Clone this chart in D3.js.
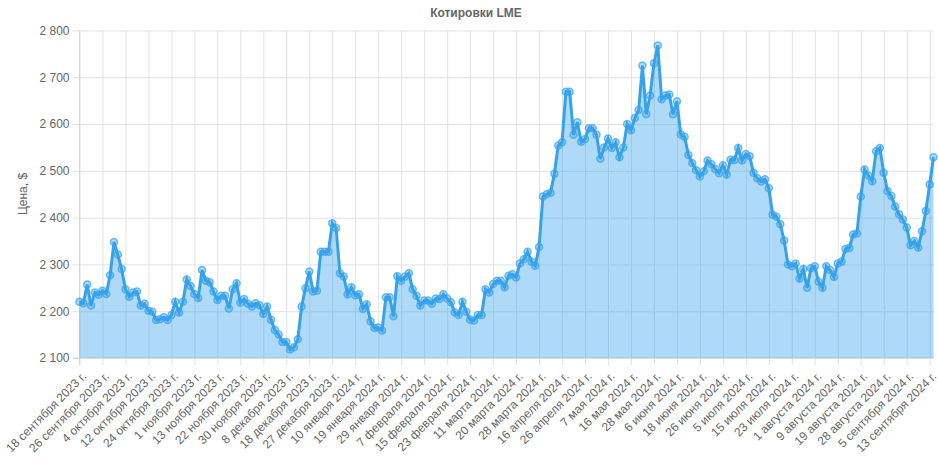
<!DOCTYPE html>
<html><head><meta charset="utf-8">
<script src="https://cdn.jsdelivr.net/npm/d3@7"></script>
<style>
body{margin:0;background:#fff;}
svg{display:block;font-family:"Liberation Sans",Arial,Helvetica,sans-serif;}
</style></head>
<body><svg id="c" width="938" height="472"></svg>
<script>
const title = "Котировки LME";
const yTitle = "Цена, $";
const dates = [
"2023-09-18","2023-09-19","2023-09-20","2023-09-21","2023-09-22","2023-09-25","2023-09-26",
"2023-09-27","2023-09-28","2023-09-29","2023-10-02","2023-10-03","2023-10-04",
"2023-10-05","2023-10-06","2023-10-09","2023-10-10","2023-10-11","2023-10-12",
"2023-10-16","2023-10-17","2023-10-18","2023-10-19","2023-10-23","2023-10-24",
"2023-10-25","2023-10-26","2023-10-27","2023-10-30","2023-10-31","2023-11-01",
"2023-11-02","2023-11-03","2023-11-06","2023-11-08","2023-11-10","2023-11-13",
"2023-11-14","2023-11-15","2023-11-16","2023-11-17","2023-11-21","2023-11-22",
"2023-11-23","2023-11-24","2023-11-27","2023-11-28","2023-11-29","2023-11-30",
"2023-12-01","2023-12-04","2023-12-05","2023-12-06","2023-12-07","2023-12-08",
"2023-12-11","2023-12-12","2023-12-13","2023-12-14","2023-12-15","2023-12-18",
"2023-12-19","2023-12-20","2023-12-21","2023-12-22","2023-12-26","2023-12-27",
"2023-12-28","2023-12-29","2024-01-03","2024-01-05","2024-01-09","2024-01-10",
"2024-01-11","2024-01-12","2024-01-16","2024-01-17","2024-01-18","2024-01-19",
"2024-01-22","2024-01-23","2024-01-24","2024-01-25","2024-01-26","2024-01-29",
"2024-01-30","2024-01-31","2024-02-01","2024-02-02","2024-02-06","2024-02-07",
"2024-02-08","2024-02-09","2024-02-12","2024-02-13","2024-02-14","2024-02-15",
"2024-02-16","2024-02-19","2024-02-20","2024-02-21","2024-02-22","2024-02-23",
"2024-02-27","2024-02-29","2024-03-04","2024-03-06","2024-03-08","2024-03-11",
"2024-03-12","2024-03-13","2024-03-14","2024-03-18","2024-03-19","2024-03-20",
"2024-03-21","2024-03-22","2024-03-25","2024-03-26","2024-03-27","2024-03-28",
"2024-04-03","2024-04-05","2024-04-09","2024-04-11","2024-04-15","2024-04-16",
"2024-04-17","2024-04-18","2024-04-22","2024-04-23","2024-04-25","2024-04-26",
"2024-04-29","2024-04-30","2024-05-01","2024-05-02","2024-05-03","2024-05-07",
"2024-05-08","2024-05-09","2024-05-10","2024-05-14","2024-05-15","2024-05-16",
"2024-05-17","2024-05-20","2024-05-21","2024-05-22","2024-05-24","2024-05-28",
"2024-05-29","2024-05-30","2024-05-31","2024-06-04","2024-06-05","2024-06-06",
"2024-06-07","2024-06-10","2024-06-12","2024-06-13","2024-06-17","2024-06-18",
"2024-06-19","2024-06-20","2024-06-21","2024-06-24","2024-06-25","2024-06-26",
"2024-06-27","2024-06-28","2024-07-01","2024-07-02","2024-07-03","2024-07-05",
"2024-07-08","2024-07-09","2024-07-10","2024-07-11","2024-07-12","2024-07-15",
"2024-07-16","2024-07-17","2024-07-18","2024-07-19","2024-07-22","2024-07-23",
"2024-07-24","2024-07-25","2024-07-26","2024-07-29","2024-07-31","2024-08-01",
"2024-08-02","2024-08-05","2024-08-06","2024-08-07","2024-08-08","2024-08-09",
"2024-08-12","2024-08-13","2024-08-14","2024-08-15","2024-08-16","2024-08-19",
"2024-08-20","2024-08-21","2024-08-22","2024-08-23","2024-08-27","2024-08-28",
"2024-08-29","2024-08-30","2024-09-02","2024-09-03","2024-09-04","2024-09-05",
"2024-09-06","2024-09-09","2024-09-10","2024-09-11","2024-09-12","2024-09-13",
"2024-09-16"];
const prices = [
2220,2217,2257,2212,2240,2235,2244,
2237,2277,2348,2321,2290,2247,
2231,2240,2242,2212,2216,2201,
2199,2181,2183,2187,2181,2192,
2220,2197,2220,2268,2254,2237,
2228,2288,2265,2262,2242,2224,
2233,2233,2206,2247,2260,2218,
2226,2216,2210,2217,2213,2194,
2210,2182,2160,2150,2134,2134,
2118,2123,2140,2210,2249,2285,
2242,2244,2327,2327,2327,2388,
2378,2281,2274,2236,2251,2234,
2236,2205,2215,2178,2164,2165,
2159,2230,2230,2189,2275,2265,
2274,2281,2247,2233,2212,2223,
2223,2216,2227,2226,2236,2227,
2219,2197,2192,2220,2199,2182,
2180,2192,2192,2247,2240,2258,
2265,2265,2251,2276,2279,2272,
2302,2311,2327,2306,2297,2337,
2445,2450,2453,2494,2554,2561,
2669,2669,2577,2604,2562,2568,
2591,2591,2577,2526,2550,2569,
2549,2561,2529,2550,2600,2587,
2613,2630,2725,2621,2661,2730,
2768,2653,2661,2663,2621,2649,
2578,2573,2534,2517,2502,2488,
2499,2522,2514,2504,2495,2512,
2492,2524,2523,2549,2522,2536,
2531,2496,2484,2477,2482,2463,
2406,2402,2386,2351,2300,2296,
2302,2270,2290,2250,2292,2296,
2263,2250,2296,2288,2273,2302,
2306,2333,2335,2364,2366,2445,
2503,2490,2478,2542,2549,2496,
2457,2446,2424,2407,2396,2379,
2341,2350,2336,2371,2414,2471,
2529];
const yTicks = [2100,2200,2300,2400,2500,2600,2700,2800];
const monthsGen = ["января","февраля","марта","апреля","мая","июня","июля","августа","сентября","октября","ноября","декабря"];
const labelStep = 6;

function fmtDate(s){
  const [y,m,d] = s.split("-").map(Number);
  return d + " " + monthsGen[m-1] + " " + y + " г.";
}
const loc = d3.formatLocale({decimal:",", thousands:"\u00a0", grouping:[3], currency:["","$"]});
const fmtY = loc.format(",d");

const L = 79.5, R = 933.5, T = 30.5, B = 358;
const svg = d3.select("#c");
const x = d3.scaleLinear().domain([0, dates.length-1]).range([L, R]);
const y = d3.scaleLinear().domain([2100, 2800]).range([B, T]);
const grid = "#e2e2e2", txt = "#666";
const blue = "rgb(54,162,235)";

// title
svg.append("text").attr("x", 476).attr("y", 17).attr("text-anchor","middle")
  .attr("font-size", 12).attr("font-weight","bold").attr("fill", txt).text(title);

// y grid + axis
const yAxis = d3.axisLeft(y).tickValues(yTicks).tickFormat(fmtY).tickSize(-(R-L)).tickPadding(10);
const gy = svg.append("g").attr("transform", `translate(${L},0)`).call(yAxis);
gy.select(".domain").remove();
gy.selectAll(".tick line").attr("stroke", grid).attr("x1", -7);
gy.selectAll(".tick text").attr("fill", txt).attr("font-size", 12).attr("x",-10)
  .attr("font-family",'"Liberation Sans",Arial,sans-serif');

// x grid + axis
const xIdx = d3.range(0, dates.length, labelStep);
const xAxis = d3.axisBottom(x).tickValues(xIdx).tickFormat(i => fmtDate(dates[i])).tickSize(-(B-T));
const gx = svg.append("g").attr("transform", `translate(0,${B})`).call(xAxis);
gx.select(".domain").remove();
gx.selectAll(".tick line").attr("stroke", grid).attr("y2", 7).attr("y1", -(B-T));
gx.selectAll(".tick text").attr("fill", txt).attr("font-size", 12)
  .attr("font-family",'"Liberation Sans",Arial,sans-serif')
  .attr("text-anchor","end").attr("dy", null).attr("y", 0)
  .attr("transform","translate(7,19) rotate(-45)");

// axis borders
svg.append("line").attr("x1", L).attr("x2", L).attr("y1", T).attr("y2", B+7).attr("stroke", "#d6d6d6");
svg.append("line").attr("x1", L-7).attr("x2", R).attr("y1", B).attr("y2", B).attr("stroke", "#d6d6d6");

// y title
svg.append("text").attr("transform", `translate(27,194) rotate(-90)`).attr("text-anchor","middle")
  .attr("font-size", 12).attr("fill", txt).text(yTitle);

const data = prices.map((v,i)=>({i, v}));
const area = d3.area().x(d=>x(d.i)).y0(B).y1(d=>y(d.v));
const line = d3.line().x(d=>x(d.i)).y(d=>y(d.v));
svg.append("path").datum(data).attr("d", area).attr("fill", "rgba(54,162,235,0.4)");
svg.append("path").datum(data).attr("d", line).attr("fill","none").attr("stroke", blue)
  .attr("stroke-width", 3).attr("stroke-linejoin","miter");
svg.append("g").selectAll("circle").data(data).join("circle")
  .attr("cx", d=>x(d.i)).attr("cy", d=>y(d.v)).attr("r", 3.5)
  .attr("fill","rgba(54,162,235,0.4)").attr("stroke", "rgba(54,162,235,0.7)").attr("stroke-width", 1.5);
</script></body></html>
